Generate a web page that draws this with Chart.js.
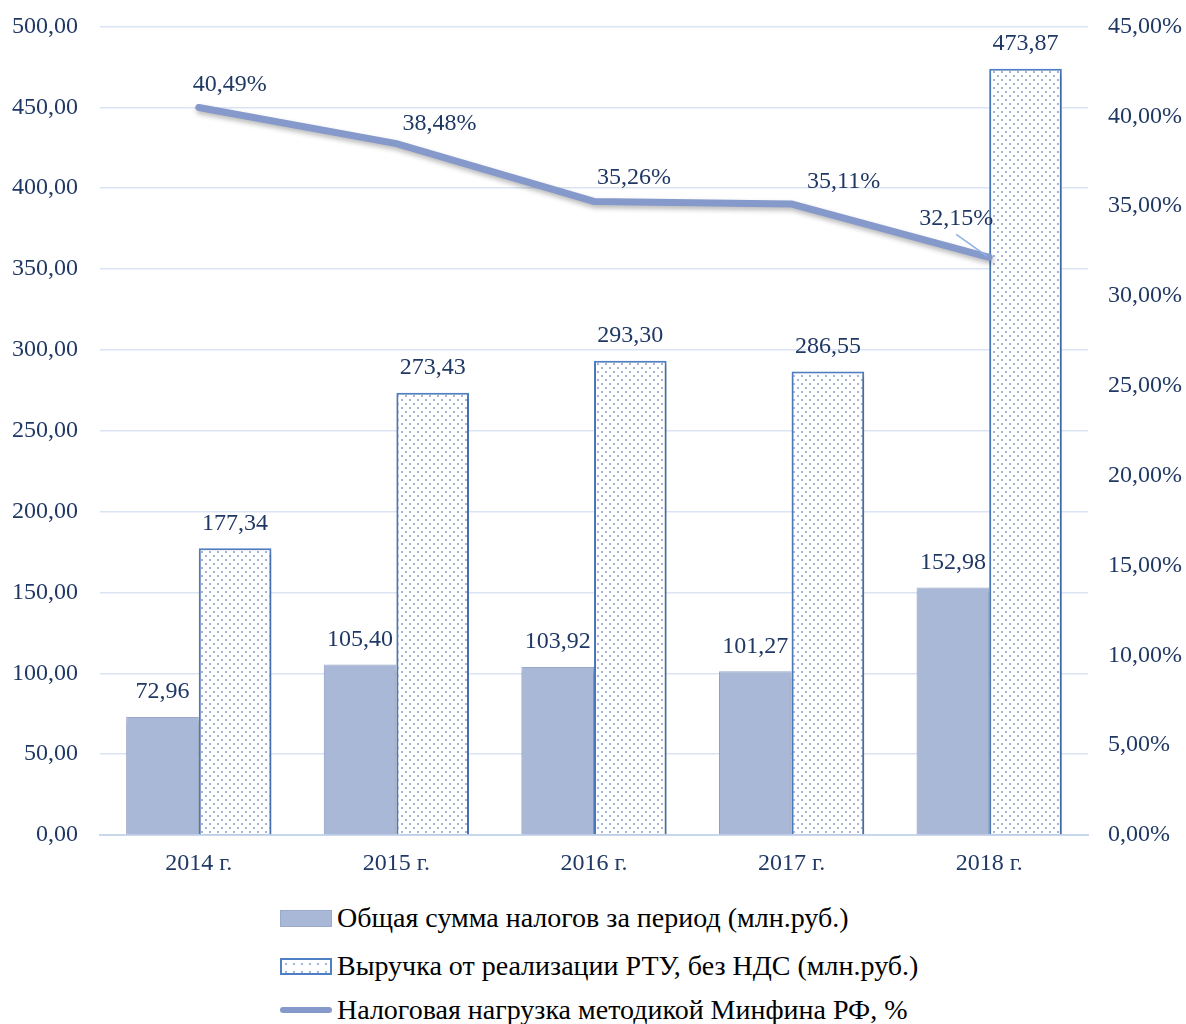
<!DOCTYPE html>
<html>
<head>
<meta charset="utf-8">
<script src="https://cdn.jsdelivr.net/npm/chart.js@4"></script>
<style>
  body { margin: 0; background: #fff; overflow: hidden; }
  #wrap { position: relative; width: 1186px; height: 1024px; overflow: hidden; }
  #chart { position: absolute; left: 0; top: -10px; }
  .legend { position: absolute; left: 280px; font-family: "Liberation Serif", serif; font-size: 28px; color: #000; }
  .legend div { position: absolute; left: 0; white-space: nowrap; height: 32px; line-height: 32px; }
  .legend span.sw { position: absolute; left: 0; top: 8px; width: 52px; height: 17px; box-sizing: border-box; }
  .legend span.txt { position: absolute; left: 57px; top: 0; }
</style>
</head>
<body>
<div id="wrap">
  <canvas id="chart" width="1186" height="900"></canvas>
  <div class="legend" id="legend"></div>
</div>
<script>
// Categories and series
const years = ['2014 г.', '2015 г.', '2016 г.', '2017 г.', '2018 г.'];
const taxTotal = [72.96, 105.40, 103.92, 101.27, 152.98];
const revenue = [177.34, 273.43, 293.30, 286.55, 473.87];
const taxLoad = [40.49, 38.48, 35.26, 35.11, 32.15];

const seriesNames = [
  'Общая сумма налогов за период (млн.руб.)',
  'Выручка от реализации РТУ, без НДС (млн.руб.)',
  'Налоговая нагрузка методикой Минфина РФ, %'
];

// label offsets for the line labels (dx, dy from the point)
const lineLabelOffsets = [[31, -23], [43, -20], [40, -24], [52, -22], [-33, -39]];

const textColor = '#203864';
const font = '"Liberation Serif", "Times New Roman", serif';
const fmt = v => v.toFixed(2).replace('.', ',');

// dotted pattern for revenue bars
function makePattern() {
  const c = document.createElement('canvas');
  c.width = 8; c.height = 8;
  const g = c.getContext('2d');
  g.fillStyle = '#fff';
  g.fillRect(0, 0, 8, 8);
  g.fillStyle = '#a4b3d8';
  g.fillRect(1, 1, 2, 2);
  g.fillRect(5, 5, 2, 2);
  return g.createPattern(c, 'repeat');
}
const dots = makePattern();

// shadow under the line
const shadowPlugin = {
  id: 'shadow',
  beforeDatasetDraw(chart, args) {
    const ctx = chart.ctx;
    ctx.save();
    ctx.shadowColor = 'rgba(0,0,0,0.28)';
    ctx.shadowBlur = 5;
    ctx.shadowOffsetY = 3;
    ctx.shadowOffsetX = 1;
  },
  afterDatasetDraw(chart) {
    chart.ctx.restore();
  }
};

// data labels
const labelPlugin = {
  id: 'labels',
  afterDatasetsDraw(chart) {
    const ctx = chart.ctx;
    ctx.save();
    ctx.font = '24px ' + font;
    ctx.fillStyle = textColor;
    ctx.textAlign = 'center';
    ctx.textBaseline = 'middle';
    [0, 1].forEach(di => {
      const meta = chart.getDatasetMeta(di);
      meta.data.forEach((el, i) => {
        ctx.fillText(fmt(chart.data.datasets[di].data[i]), el.x, el.y - 25);
      });
    });
    const lm = chart.getDatasetMeta(2);
    lm.data.forEach((el, i) => {
      const [dx, dy] = lineLabelOffsets[i];
      ctx.fillText(fmt(taxLoad[i]) + '%', el.x + dx, el.y + dy);
    });
    // leader line for last label
    const last = lm.data[lm.data.length - 1];
    ctx.strokeStyle = '#8fb0e0';
    ctx.lineWidth = 1.5;
    ctx.beginPath();
    ctx.moveTo(last.x - 33, last.y - 23);
    ctx.lineTo(last.x - 2, last.y - 1);
    ctx.stroke();
    ctx.restore();
  }
};

new Chart(document.getElementById('chart'), {
  data: {
    labels: years,
    datasets: [
      {
        type: 'bar',
        label: seriesNames[0],
        data: taxTotal,
        backgroundColor: '#a9b8d7',
        borderColor: '#9aaacd',
        borderWidth: 1,
        categoryPercentage: 0.735,
        barPercentage: 1,
        yAxisID: 'y',
        order: 1
      },
      {
        type: 'bar',
        label: seriesNames[1],
        data: revenue,
        backgroundColor: dots,
        borderColor: '#4f7fc4',
        borderWidth: 2,
        categoryPercentage: 0.735,
        barPercentage: 1,
        yAxisID: 'y',
        order: 1
      },
      {
        type: 'line',
        label: seriesNames[2],
        data: taxLoad,
        borderColor: '#8599ca',
        borderWidth: 7,
        borderCapStyle: 'round',
        pointRadius: 0,
        tension: 0,
        yAxisID: 'y1',
        order: 0
      }
    ]
  },
  options: {
    responsive: false,
    animation: false,
    layout: { padding: { top: 3, bottom: 0, left: 0, right: 0 } },
    plugins: {
      legend: { display: false },
      tooltip: { enabled: false }
    },
    scales: {
      x: {
        grid: { display: false, drawTicks: false },
        border: { color: '#c9d7ee', width: 2 },
        ticks: { color: textColor, font: { family: font, size: 24 }, padding: 14 },
        afterFit: s => { s.height = 55; }
      },
      y: {
        position: 'left',
        min: 0, max: 500,
        ticks: { stepSize: 50, color: textColor, font: { family: font, size: 24 }, padding: 22, callback: v => fmt(v) },
        grid: { color: '#dbe4f4', lineWidth: 1.5, drawTicks: false },
        border: { display: false },
        afterFit: s => { s.width = 100; }
      },
      y1: {
        position: 'right',
        min: 0, max: 45,
        ticks: { stepSize: 5, color: textColor, font: { family: font, size: 24 }, padding: 20, callback: v => fmt(v) + '%' },
        grid: { display: false, drawTicks: false },
        border: { display: false },
        afterFit: s => { s.width = 98; }
      }
    }
  },
  plugins: [shadowPlugin, labelPlugin]
});

// HTML legend
const legend = document.getElementById('legend');
const rowsY = [902, 950, 994];
seriesNames.forEach((name, i) => {
  const row = document.createElement('div');
  row.style.top = rowsY[i] + 'px';
  const sw = document.createElement('span');
  sw.className = 'sw';
  if (i === 0) {
    sw.style.background = '#a9b8d7';
    sw.style.border = '1px solid #9aaacd';
  } else if (i === 1) {
    sw.style.background = 'radial-gradient(#a4b3d8 0.8px, transparent 1.2px) 0 0 / 8px 8px, #fff';
    sw.style.border = '2px solid #4f7fc4';
  } else {
    sw.style.top = '13px';
    sw.style.height = '6px';
    sw.style.borderRadius = '3px';
    sw.style.background = '#8599ca';
  }
  const t = document.createElement('span');
  t.className = 'txt';
  t.textContent = name;
  row.appendChild(sw);
  row.appendChild(t);
  legend.appendChild(row);
});
</script>
</body>
</html>
